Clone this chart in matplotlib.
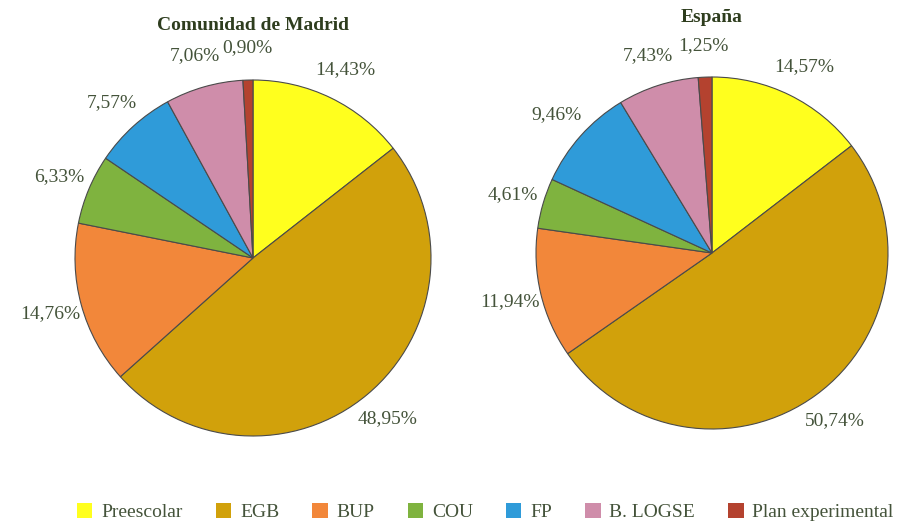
import matplotlib
matplotlib.use("Agg")
import matplotlib.pyplot as plt
from matplotlib.patches import Patch

plt.rcParams['font.family'] = ['Liberation Serif', 'DejaVu Serif']

categories = ["Preescolar", "EGB", "BUP", "COU", "FP", "B. LOGSE", "Plan experimental"]
madrid = [14.43, 48.95, 14.76, 6.33, 7.57, 7.06, 0.90]
espana = [14.57, 50.74, 11.94, 4.61, 9.46, 7.43, 1.25]
colors = ["#ffff1e", "#d1a10b", "#f2873a", "#7fb33f", "#2f9bd9", "#cf8daa", "#b4422f"]
text_color = "#44533a"

W, H = 897, 523
fig = plt.figure(figsize=(W / 100, H / 100), dpi=100)


def draw_pie(cx, cy, r, values, title, title_y):
    ax = fig.add_axes([(cx - r) / W, 1 - (cy + r) / H, 2 * r / W, 2 * r / H])
    labels = [f"{v:.2f}%".replace(".", ",") for v in values]
    wedges, texts = ax.pie(values, colors=colors, startangle=90, counterclock=False,
                           labels=labels, labeldistance=1.18, radius=1,
                           wedgeprops=dict(edgecolor="#4a4a4a", linewidth=0.8),
                           textprops=dict(color=text_color, fontsize=14))
    for t in texts:
        t.set_ha("center")
        t.set_va("center")
    ax.set_xlim(-1, 1)
    ax.set_ylim(-1, 1)
    ax.set_aspect("equal")
    ax.axis("off")
    fig.text(cx / W, 1 - title_y / H, title, ha="center", va="center",
             fontsize=14, fontweight="bold", color="#2e3d1e")


draw_pie(253, 258, 178, madrid, "Comunidad de Madrid", 25)
draw_pie(712, 253, 176, espana, "España", 18)

handles = [Patch(facecolor=c, edgecolor="none") for c in colors]
fig.legend(handles, categories, loc="center", bbox_to_anchor=(0.541, 1 - 512 / H),
           ncol=7, frameon=False, handlelength=0.8, handleheight=0.8,
           handletextpad=0.45, columnspacing=1.7, fontsize=14,
           labelcolor=text_color)

fig.savefig("out.png", dpi=100)
